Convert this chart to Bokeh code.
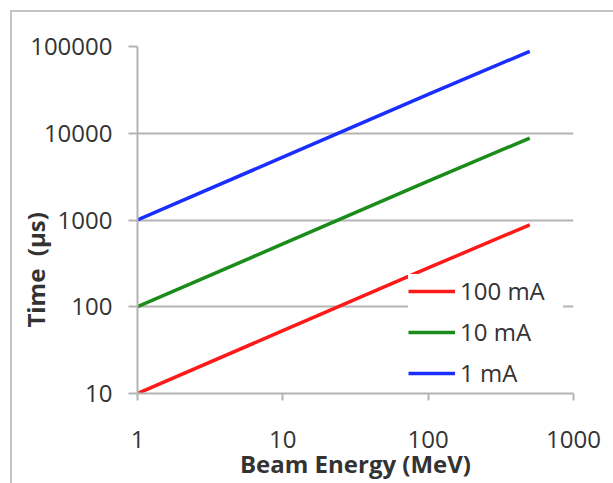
from bokeh.plotting import figure
from bokeh.models import Range1d, FixedTicker, NumeralTickFormatter, Legend, LegendItem
from bokeh.embed import file_html
from bokeh.resources import INLINE

# Data (straight lines on log-log axes)
energy = [1, 10, 100, 500]           # Beam energy, MeV
t_100mA = [10, 53, 280, 880]         # Time, µs
t_10mA = [100, 530, 2800, 8800]
t_1mA = [1000, 5300, 28000, 88000]
series_labels = ["100 mA", "10 mA", "1 mA"]
x_ticks = [1, 10, 100, 1000]
y_ticks = [10, 100, 1000, 10000, 100000]

FONT = "Open Sans"
GRID = "#b4b4b4"
TXT = "#333333"
BORDER = "#c4c4c4"

p = figure(width=613, height=483, x_axis_type="log", y_axis_type="log",
           x_range=Range1d(1, 1000), y_range=Range1d(10, 100000),
           output_backend="svg", toolbar_location=None,
           min_border_left=137, min_border_right=40, min_border_top=46, min_border_bottom=90)
p.outline_line_color = None
p.background_fill_color = "white"
p.border_fill_alpha = 0
p.styles = {
    "background": (f"linear-gradient({BORDER},{BORDER}) 10px 10px / 2px 100% no-repeat, "
                   f"linear-gradient({BORDER},{BORDER}) 10px 10px / 100% 2px no-repeat, white"),
}

p.xgrid.grid_line_color = None
p.ygrid.grid_line_color = GRID
p.ygrid.grid_line_width = 2
p.ygrid.ticker = FixedTicker(ticks=y_ticks)

for ax in (p.xaxis[0], p.yaxis[0]):
    ax.axis_line_color = GRID
    ax.axis_line_width = 2
    ax.major_tick_line_color = GRID
    ax.major_tick_line_width = 2
    ax.major_tick_in = 0
    ax.minor_tick_line_color = None
    ax.major_label_text_font = FONT
    ax.major_label_text_font_size = "24px"
    ax.major_label_text_color = TXT
    ax.formatter = NumeralTickFormatter(format="0")
    ax.axis_label_text_font = FONT
    ax.axis_label_text_font_size = "24px"
    ax.axis_label_text_font_style = "bold"
    ax.axis_label_text_color = TXT

p.xaxis.ticker = FixedTicker(ticks=x_ticks)
p.yaxis.ticker = FixedTicker(ticks=y_ticks)
p.yaxis.major_tick_out = 9
p.xaxis.major_tick_out = 7
p.yaxis.major_label_standoff = 16
p.xaxis.major_label_standoff = 30

p.xaxis.axis_label = "Beam Energy (MeV)"
p.xaxis.axis_label_standoff_mode = "axis"
p.xaxis.axis_label_standoff = 53

# trailing no-break spaces shift the centred label down, as in the original
p.yaxis.axis_label = "Time\u00a0\u00a0(µs)" + "\u00a0" * 16
p.yaxis.axis_label_standoff_mode = "axis"
p.yaxis.axis_label_standoff = 86

colors = ["#ff1a1a", "#1a8c1a", "#1a2eff"]
renderers = []
for ys, c in zip([t_100mA, t_10mA, t_1mA], colors):
    renderers.append(p.line(energy, ys, line_color=c, line_width=3.5))

legend = Legend(items=[LegendItem(label=lab, renderers=[r]) for lab, r in zip(series_labels, renderers)],
                location=(271, 4), padding=0, spacing=8, margin=0,
                glyph_width=47, glyph_height=30, label_height=30, label_width=103,
                label_standoff=5, label_text_font=FONT, label_text_font_size="24px",
                label_text_color=TXT, border_line_color=None,
                background_fill_color="white", background_fill_alpha=1.0)
p.add_layout(legend, "center")

open("out.html", "w").write(file_html(p, INLINE))
